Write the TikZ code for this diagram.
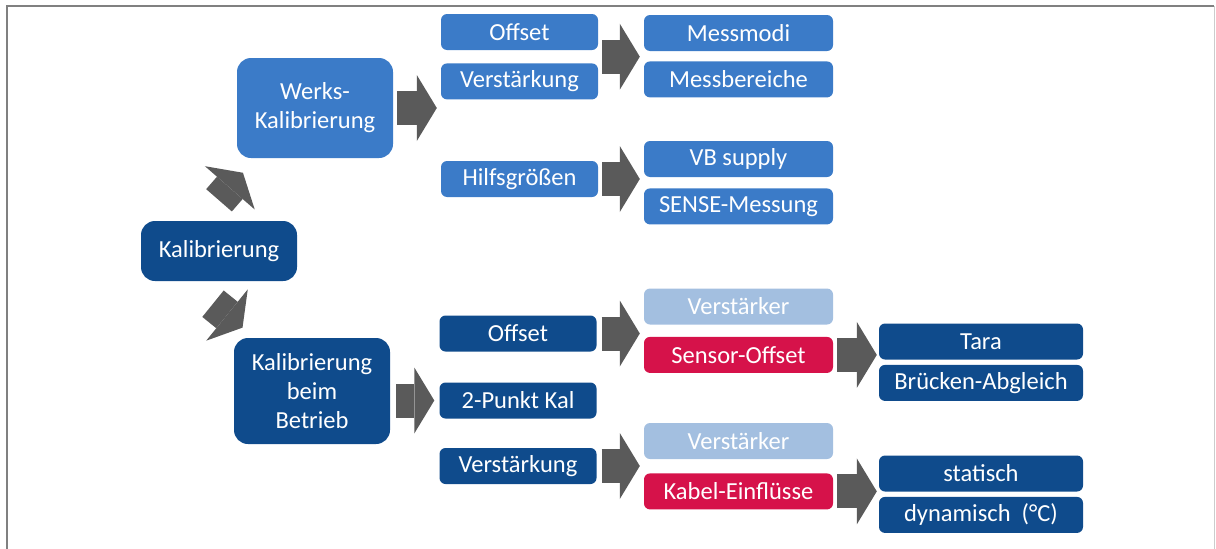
\documentclass[tikz,border=0pt]{standalone}
\usepackage{fontspec}
\setmainfont{Carlito}
\usepackage{xcolor}
\usepackage{tikz}
\usetikzlibrary{arrows.meta, positioning, calc}
\definecolor{werkblue}{RGB}{59,123,200}
\definecolor{deepblue}{RGB}{15,75,140}
\definecolor{paleblue}{RGB}{163,191,224}
\definecolor{alertred}{RGB}{214,18,74}
\definecolor{arrowgray}{RGB}{90,90,90}

\begin{document}
\begin{tikzpicture}[
        x=1pt, y=-1pt,
        txt/.style={text=white, align=center, inner sep=0pt,
                    font=\fontsize{24.5}{29}\selectfont},
        bigbox/.style={txt, rectangle, rounded corners=14pt, fill=#1,
                       minimum width=156pt},
        smallbox/.style={txt, rectangle, rounded corners=6pt, fill=#1,
                         minimum width=157pt, minimum height=36pt},
        midbox/.style={smallbox=#1, minimum width=189pt},
        widebox/.style={smallbox=#1, minimum width=204pt},
        blockarrow/.style={line width=34pt, draw=arrowgray,
                           -{Triangle[length=20pt, width=66pt, line width=0pt]}},
      ]
      \useasboundingbox (0,0) rectangle (1216,549);
      % frame
      \draw[gray, line width=2pt] (7,549) -- (7,6) -- (1214,6);
      \draw[gray!40, line width=1pt] (1214,6) -- (1214,549);

      % left column
      \node[bigbox=deepblue, minimum height=60pt] (kal) at (219,251) {Kalibrierung};
      \node[bigbox=werkblue, minimum height=100pt] (werk) at (315,108) {Werks-\\Kalibrierung};
      \node[bigbox=deepblue, minimum height=106pt] (betr) at (312,391) {Kalibrierung\\beim\\Betrieb};

      % factory calibration
      \node[smallbox=werkblue] (off1) at (519.5,32) {Offset};
      \node[smallbox=werkblue, below=13pt of off1] (ver1) {Verstärkung};
      \node[smallbox=werkblue] (hilf) at (519.5,179) {Hilfsgrößen};
      \node[midbox=werkblue] (modi) at (738.5,33) {Messmodi};
      \node[midbox=werkblue, below=10pt of modi] (bereich) {Messbereiche};
      \node[midbox=werkblue] (vb) at (738.5,159) {VB supply};
      \node[midbox=werkblue, below=11pt of vb] (sense) {SENSE-Messung};

      % calibration in operation
      \node[smallbox=deepblue] (off2) at (518,333.5) {Offset};
      \node[smallbox=deepblue] (punkt) at (518,400.5) {2-Punkt Kal};
      \node[smallbox=deepblue] (ver2) at (518,466) {Verstärkung};
      \node[midbox=paleblue] (vk1) at (738.5,306.5) {Verstärker};
      \node[midbox=alertred, below=12pt of vk1] (sens) {Sensor-Offset};
      \node[midbox=paleblue] (vk2) at (738.5,441) {Verstärker};
      \node[midbox=alertred, below=14pt of vk2] (kabel) {Kabel-Einflüsse};
      \node[widebox=deepblue] (tara) at (981,341.5) {Tara};
      \node[widebox=deepblue, below=5pt of tara] (bruecke) {Brücken-Abgleich};
      \node[widebox=deepblue] (stat) at (981,473.5) {statisch};
      \node[widebox=deepblue, below=5pt of stat] (dyn) {dynamisch~ (°C)};

      % block arrows
      \coordinate (g1) at ($(off1.east)!0.5!(ver1.east)$);
      \draw[blockarrow] ([yshift=20.5pt]kal.north) -- ++(49:36.5pt);
      \draw[blockarrow] ([xshift=-6pt, yshift=-22.5pt]kal.south) -- ++(-39:38pt);
      \draw[blockarrow] ([xshift=4pt]werk.east) -- ([xshift=-4pt]werk.east -| off1.west);
      \draw[blockarrow] ([xshift=4pt]g1) -- ([xshift=-4pt]g1 -| modi.west);
      \draw[blockarrow] ([xshift=4pt]hilf.east) -- ([xshift=-4pt]hilf.east -| vb.west);
      \draw[blockarrow] ([xshift=6pt]betr.east |- punkt.west) -- ([xshift=-5pt]punkt.west);
      \draw[blockarrow] ([xshift=5pt]off2.east) -- ([xshift=-4pt]off2.east -| vk1.west);
      \draw[blockarrow] ([xshift=5pt]ver2.east) -- ([xshift=-4pt]ver2.east -| vk2.west);
      \draw[blockarrow] ([xshift=4pt]sens.east) -- ([xshift=-2pt]sens.east -| tara.west);
      \draw[blockarrow] ([xshift=4pt]kabel.east) -- ([xshift=-2pt]kabel.east -| stat.west);
    \end{tikzpicture}
\end{document}
